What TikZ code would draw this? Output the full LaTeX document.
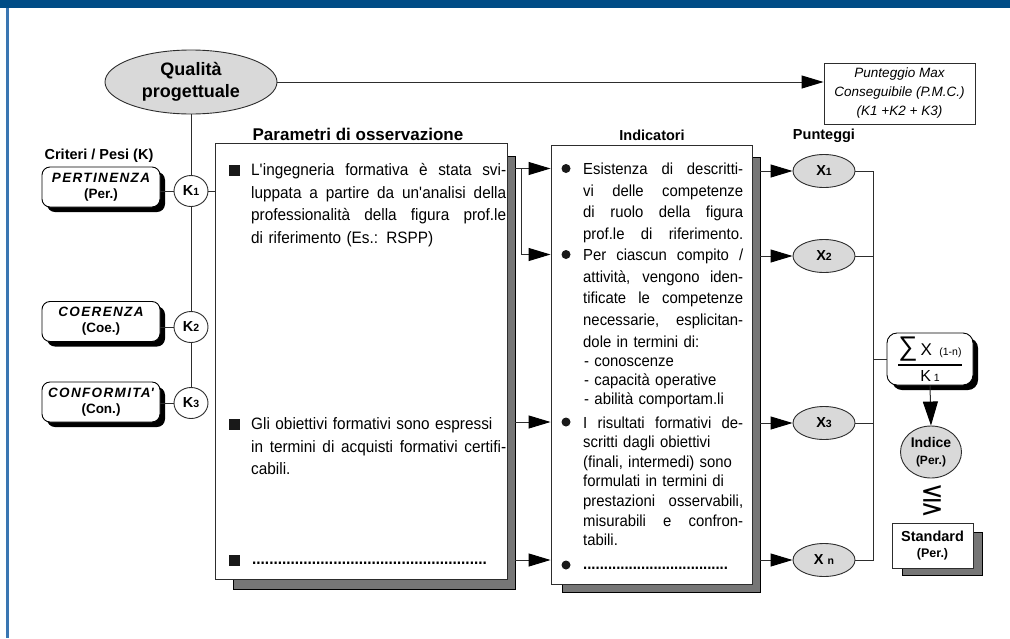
\documentclass[tikz,border=0pt]{standalone}
\usepackage{fontspec}
\setmainfont{Liberation Sans}
\newfontfamily\boxfont{Liberation Sans}[FakeStretch=0.93]
\newfontfamily\symfont{DejaVu Sans}
\usepackage{tikz}
\usetikzlibrary{shapes.geometric, arrows.meta, positioning, calc, shadows, backgrounds}

\definecolor{barblue}{RGB}{0,76,134}
\definecolor{edgeblue}{RGB}{58,118,178}
\definecolor{ovalgray}{RGB}{217,217,217}
\definecolor{shadegray}{RGB}{118,118,118}
\definecolor{linegray}{RGB}{45,45,45}

% righe giustificate / naturali (impilate in modo verticale)
\def\jwidth{100pt}
\newcommand{\jl}[1]{\hbox to \jwidth{\spaceskip=0pt\xspaceskip=0pt\relax #1}}
\newcommand{\nl}[1]{\hbox{#1}}
\newcommand{\dotrow}[1]{\hbox to #1{\bfseries\leaders\hbox{.}\hfill}}
\newcommand{\sml}[1]{{\fontsize{10.5}{10.5}\selectfont #1}}
\newcommand{\critname}[1]{{\itshape\addfontfeatures{LetterSpace=10}#1}}

\begin{document}
\begin{tikzpicture}[x=1pt, y=-1pt,
    bigoval/.style={
        ellipse, draw=linegray, fill=ovalgray, line width=0.9pt,
        minimum width=172pt, minimum height=64pt, inner sep=0pt,
        align=center, font=\fontsize{18}{22}\selectfont\bfseries
    },
    critbox/.style={
        rectangle, rounded corners=8pt, draw=black, fill=white, line width=0.9pt,
        minimum width=118pt, minimum height=40pt, inner sep=0pt,
        align=center, font=\fontsize{13.5}{16}\selectfont\bfseries,
        drop shadow={shadow xshift=5pt, shadow yshift=-5pt, fill=black, opacity=1}
    },
    kcirc/.style={
        ellipse, draw=linegray, fill=white, line width=0.9pt,
        minimum width=34pt, minimum height=31pt, inner sep=0pt,
        font=\fontsize{14.5}{14.5}\selectfont\bfseries
    },
    mainbox/.style={rectangle, draw=linegray, fill=white, line width=0.9pt, inner sep=0pt},
    boxshade/.style={draw=black, fill=shadegray, line width=0.8pt},
    xoval/.style={
        ellipse, draw=linegray, fill=ovalgray, line width=0.9pt,
        minimum width=62pt, minimum height=33pt, inner sep=0pt,
        font=\fontsize{14.5}{14.5}\selectfont\bfseries
    },
    head/.style={anchor=base, inner sep=0pt, font=\fontsize{14.5}{17}\selectfont\bfseries},
    partext/.style={anchor=base west, inner sep=0pt, text width=255pt,
        execute at begin node={\def\jwidth{255pt}},
        font=\boxfont\fontsize{16.5}{22.7}\selectfont},
    indtext/.style={anchor=base west, inner sep=0pt, text width=160pt,
        execute at begin node={\def\jwidth{160pt}},
        font=\boxfont\fontsize{16}{21.7}\selectfont},
    sqbullet/.style={rectangle, fill=black!90, minimum size=11pt, inner sep=0pt},
    rdbullet/.style={circle, fill=black!90, minimum size=9pt, inner sep=0pt},
    link/.style={draw=linegray, line width=1pt},
    arrow/.style={link, -{Triangle[length=22pt, width=13pt, color=black]}},
]
\useasboundingbox (0,0) rectangle (1010,638);

%% cornice
\fill[barblue] (0,0) rectangle (1010,8);
\fill[edgeblue] (6,8) rectangle (8.5,638);

%% Qualita' progettuale e P.M.C.
\node[bigoval] (qual) at (191,82) {Qualità\\progettuale};
\node[mainbox, minimum width=151pt, minimum height=61pt, align=center,
      font=\fontsize{13.5}{19}\selectfont\itshape] (pmc) at (899.5,93.5)
    {Punteggio Max\\Conseguibile (P.M.C.)\\(K1 +K2 + K3)};

%% Titoli
\node[head] (tcrit) at (99,159) {Criteri / Pesi (K)};
\node[head, font=\fontsize{17}{20}\selectfont\bfseries] (tpar) at (358,140) {Parametri di osservazione};
\node[head] (tind) at (652,140) {Indicatori};
\node[head] (tpun) at (824,139) {Punteggi};

%% Criteri e pesi
\node[critbox] (per) at (101,187) {\critname{PERTINENZA}\\(Per.)};
\node[critbox] (coe) at (101,321.5) {\critname{COERENZA}\\(Coe.)};
\node[critbox] (con) at (101,402) {\critname{CONFORMITA\textquotesingle}\\(Con.)};
\node[kcirc] (k1) at (191,191) {K\sml{1}};
\node[kcirc] (k2) at (191,327) {K\sml{2}};
\node[kcirc] (k3) at (191,403) {K\sml{3}};

%% Parametri di osservazione
\node[mainbox, minimum width=292pt, minimum height=436pt] (par) at (361,361) {};
\node[sqbullet] (pb1) at (234.5,170) {};
\node[partext] (pt1) at (251,175.5) {%
    \jl{L\textquotesingle ingegneria formativa è stata svi-}
    \jl{luppata a partire da un\textquotesingle analisi della}
    \jl{professionalità della figura prof.le}
    \nl{di riferimento (Es.: RSPP)}};
\node[sqbullet] (pb2) at (234.5,424) {};
\node[partext] (pt2) at (251,429.5) {%
    \nl{Gli obiettivi formativi sono espressi}
    \jl{in termini di acquisti formativi certifi-}
    \nl{cabili.}};
\node[sqbullet] (pb3) at (234.5,560) {};
\node[partext] (pt3) at (252,564) {\dotrow{236pt}};

%% Indicatori
\node[mainbox, minimum width=201pt, minimum height=439pt] (ind) at (651.5,364.5) {};
\node[rdbullet] (ib1) at (566,168.5) {};
\node[indtext] (it1) at (583,174.5) {%
    \jl{Esistenza di descritti-}
    \jl{vi delle competenze}
    \jl{di ruolo della figura}
    \jl{prof.le di riferimento.}};
\node[rdbullet] (ib2) at (566,254.5) {};
\node[indtext] (it2) at (583,260.5) {%
    \jl{Per ciascun compito /}
    \jl{attività, vengono iden-}
    \jl{tificate le competenze}
    \jl{necessarie, esplicitan-}
    \nl{dole in termini di:}};
\node[indtext, font=\boxfont\fontsize{16}{19}\selectfont] (it2b) at (584,366) {%
    \nl{- conoscenze}
    \nl{- capacità operative}
    \nl{- abilità comportam.li}};
\node[rdbullet] (ib3) at (566,422) {};
\node[indtext, font=\boxfont\fontsize{16}{19.6}\selectfont] (it3) at (583,428) {%
    \jl{I risultati formativi de-}
    \nl{scritti dagli obiettivi}
    \nl{(finali, intermedi) sono}
    \nl{formulati in termini di}
    \jl{prestazioni osservabili,}
    \jl{misurabili e confron-}
    \nl{tabili.}};
\node[rdbullet] (ib4) at (566,565) {};
\node[indtext] (it4) at (583,569) {\dotrow{147pt}};

%% Ombre dei riquadri
\begin{scope}[on background layer]
\draw[boxshade] ($(par.south west)+(19,10)$) rectangle ($(par.north east)+(8,14)$);
\draw[boxshade] ($(ind.south west)+(12,8)$) rectangle ($(ind.north east)+(8,13)$);
\end{scope}

%% Punteggi
\node[xoval] (x1) at (824,171) {X\sml{1}};
\node[xoval] (x2) at (824,256) {X\sml{2}};
\node[xoval] (x3) at (824,423) {X\sml{3}};
\node[xoval] (xn) at (824,560) {X \sml{n}};

%% Indice e standard
\node[critbox, minimum width=86pt, minimum height=52pt, rounded corners=10pt,
      font=\fontsize{17}{17}\selectfont] (frm) at (930,359)
    {$\displaystyle{\hbox{{\fontsize{27}{27}\selectfont ∑}\,X\, \sml{(1-n)}}\above 1.1pt \hbox{\fontsize{16}{16}\selectfont K\,\sml{1}}}$};
\node[xoval, minimum width=61pt, minimum height=52pt, align=center,
      font=\fontsize{14}{17}\selectfont\bfseries] (idx) at (931,452)
    {Indice\\{\fontsize{12}{12}\selectfont (Per.)}};
\node[inner sep=0pt, font=\fontsize{28}{28}\selectfont\symfont] (cmp) at (932,501) {⋚};
\node[mainbox, minimum width=81pt, minimum height=45pt, align=center,
      font=\fontsize{14.5}{16}\selectfont\bfseries] (std) at (932.5,545.5)
    {Standard\\{\fontsize{12.5}{12.5}\selectfont (Per.)}};
\begin{scope}[on background layer]
\draw[boxshade] ($(std.south west)+(11,7)$) rectangle ($(std.north east)+(9,10)$);
\end{scope}

%% Collegamenti criteri
\draw[arrow] (qual.east) -- (qual.east -| pmc.west);
\draw[link] (qual.south) -- (k1.north);
\draw[link] (k1) -- (k2);
\draw[link] (k2) -- (k3);
\draw[link] (per.east |- k1) -- (k1);
\draw[link] (coe.east |- k2) -- (k2);
\draw[link] (con.east |- k3) -- (k3);
\draw[link] (k1.east) -- (k1.east -| par.west);

%% Frecce parametri -> indicatori -> punteggi
\coordinate (pout) at ($(par.north east)+(8,0)$);
\coordinate (iout) at ($(ind.north east)+(8,0)$);
\draw[arrow] (pout |- ib1) -- (ind.west |- ib1);
\draw[arrow] ($(pout |- ib1)+(6,0)$) |- (ind.west |- ib2);
\draw[arrow] (pout |- ib3) -- (ind.west |- ib3);
\draw[arrow] (pout |- xn) -- (ind.west |- xn);
\draw[arrow] (iout |- x1) -- (x1);
\draw[arrow] (iout |- x2) -- (x2);
\draw[arrow] (iout |- x3) -- (x3);
\draw[arrow] (iout |- xn) -- (xn);

%% Somma dei punteggi
\draw[link] (x1.east) -- ++(18,0) |- (xn.east);
\draw[link] (x2.east) -- ++(18,0);
\draw[link] (x3.east) -- ++(18,0);
\draw[link] (frm.west) -- ++(-14,0);
\draw[arrow, -{Triangle[length=24pt, width=15pt, color=black]}] (frm.south) -- (idx.north);

\end{tikzpicture}
\end{document}
